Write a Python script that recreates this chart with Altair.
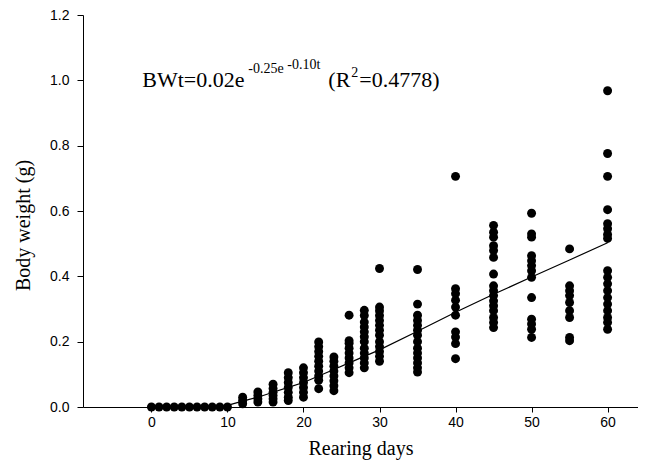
import altair as alt
import pandas as pd

sample_days = [0, 1, 2, 3, 4, 5, 6, 7, 8, 9, 10,
               12, 14, 16, 18, 20, 22, 24, 26, 28, 30,
               35, 40, 45, 50, 55, 60]
weights_by_day = [
    [0.0], [0.0], [0.0], [0.0], [0.0], [0.0], [0.0], [0.0], [0.0], [0.0], [0.0],
    [0.01, 0.02, 0.03],
    [0.015, 0.025, 0.035, 0.046],
    [0.015, 0.025, 0.035, 0.045, 0.057, 0.07],
    [0.02, 0.03, 0.045, 0.06, 0.075, 0.09, 0.105],
    [0.03, 0.045, 0.06, 0.075, 0.09, 0.105, 0.12],
    [0.056, 0.082, 0.095, 0.11, 0.125, 0.14, 0.155, 0.17, 0.185, 0.199],
    [0.05, 0.065, 0.08, 0.095, 0.11, 0.125, 0.14, 0.153],
    [0.105, 0.12, 0.135, 0.15, 0.165, 0.18, 0.195, 0.203, 0.281],
    [0.12, 0.135, 0.15, 0.165, 0.18, 0.2, 0.215, 0.23, 0.245, 0.26, 0.28, 0.296],
    [0.14, 0.155, 0.17, 0.185, 0.2, 0.22, 0.235, 0.25, 0.265, 0.28, 0.295, 0.306, 0.424],
    [0.107, 0.12, 0.135, 0.15, 0.165, 0.18, 0.2, 0.22, 0.235, 0.25, 0.265, 0.281, 0.315, 0.421],
    [0.148, 0.194, 0.214, 0.23, 0.281, 0.306, 0.327, 0.347, 0.362, 0.706],
    [0.243, 0.259, 0.274, 0.295, 0.31, 0.325, 0.341, 0.356, 0.371, 0.407,
     0.458, 0.479, 0.494, 0.52, 0.535, 0.556],
    [0.213, 0.238, 0.254, 0.269, 0.335, 0.397, 0.417, 0.433, 0.448, 0.463, 0.52, 0.53, 0.593],
    [0.203, 0.213, 0.274, 0.295, 0.32, 0.341, 0.356, 0.371, 0.484],
    [0.238, 0.259, 0.274, 0.295, 0.315, 0.335, 0.356, 0.377, 0.397, 0.417,
     0.516, 0.528, 0.546, 0.561, 0.604, 0.706, 0.776, 0.968],
]

# ---- fitted growth curve ----
fit_days = [10, 12, 14, 16, 18, 20, 22, 24, 26, 28, 30, 35, 40, 45, 50, 55, 60]
fit_weights = [0.005, 0.018, 0.03, 0.045, 0.06, 0.075, 0.095, 0.115, 0.135,
               0.155, 0.175, 0.232, 0.29, 0.345, 0.398, 0.45, 0.503]

x_ticks = [0, 10, 20, 30, 40, 50, 60]
y_ticks = [0.0, 0.2, 0.4, 0.6, 0.8, 1.0, 1.2]

rows = []
for d, ws in zip(sample_days, weights_by_day):
    for w in ws:
        rows.append({"day": d, "weight": w})
obs = pd.DataFrame(rows)
fit = pd.DataFrame({"day": fit_days, "weight": fit_weights})

x_scale = alt.Scale(domain=[-9, 64], nice=False, zero=False)
y_scale = alt.Scale(domain=[0, 1.2], nice=False)

x_axis = alt.Axis(values=x_ticks, title="Rearing days", grid=False,
                  tickSize=5, labelPadding=3, titlePadding=9)
y_axis = alt.Axis(values=y_ticks, format=".1f", title="Body weight (g)", grid=False,
                  tickSize=6, labelPadding=8, titleX=-50, titleY=210)

points = alt.Chart(obs).mark_circle(size=80, color="black", opacity=1).encode(
    x=alt.X("day:Q", scale=x_scale, axis=x_axis),
    y=alt.Y("weight:Q", scale=y_scale, axis=y_axis),
)

line = alt.Chart(fit).mark_line(color="black", strokeWidth=1.2).encode(
    x=alt.X("day:Q", scale=x_scale),
    y=alt.Y("weight:Q", scale=y_scale),
)

serif = "Liberation Serif"
def piece(txt, size, dx, dy):
    return alt.Chart(obs).transform_filter("datum.day == 0").mark_text(
        text=txt, font=serif, fontSize=size, align="left", baseline="alphabetic",
        color="black", dx=dx, dy=dy,
    ).encode(x=alt.datum(-1.2), y=alt.datum(0.98))

anno = [
    piece("BWt=0.02e", 22, 0, 0),
    piece("-0.25e", 14, 106, -14),
    piece("-0.10t", 14, 145, -18),
    piece("(R", 22, 186, 0),
    piece("2", 14, 209, -10),
    piece("=0.4778)", 22, 217, 0),
]

chart = alt.layer(line, points, *anno).properties(
    width=555, height=392,
    autosize=alt.AutoSizeParams(type="none"),
    padding={"left": 75, "top": 7, "right": 0, "bottom": 55},
).configure_view(stroke=None).configure_axis(
    domainColor="black", tickColor="black", labelColor="black", titleColor="black",
    labelFont="Liberation Sans", labelFontSize=14,
    titleFont=serif, titleFontSize=20, titleFontWeight="normal",
)

chart.save("out.html", embed_options={"renderer": "svg", "actions": False})
